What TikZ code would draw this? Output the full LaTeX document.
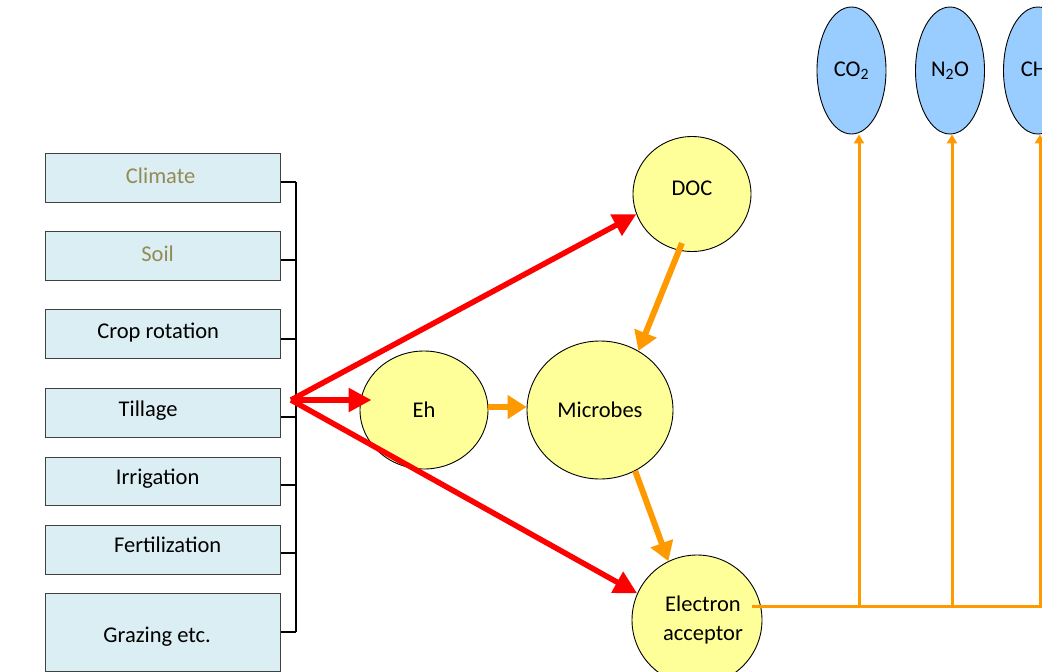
\documentclass[tikz,border=0pt]{standalone}
\usepackage{fontspec}
\setmainfont{Carlito}
\usetikzlibrary{shapes.geometric,arrows.meta}
\definecolor{boxfill}{RGB}{219,238,244}
\definecolor{tantext}{RGB}{148,138,84}
\definecolor{yel}{RGB}{255,255,153}
\definecolor{gasblue}{RGB}{153,204,255}
\definecolor{orng}{RGB}{255,153,0}
\begin{document}
\begin{tikzpicture}[x=1pt,y=-1pt,
  every node/.style={font=\fontsize{22.5}{28}\selectfont},
  factor/.style={draw=black!75,line width=1.3pt,fill=boxfill,minimum width=235pt,inner sep=0pt,anchor=north west},
  blob/.style={ellipse,draw=black,line width=0.9pt,fill=yel,inner sep=0pt,align=center},
  gas/.style={ellipse,draw=black,line width=0.9pt,fill=gasblue,inner sep=0pt,minimum width=69pt,minimum height=127pt},
  bus/.style={line width=1.2pt,black},
  redarrow/.style={draw=red,line width=5.5pt,-{Triangle[length=23pt,width=23pt]}},
  orarrow/.style={draw=orng,line width=6pt,-{Triangle[length=19pt,width=23pt]}},
  gasline/.style={draw=orng,line width=3pt},
  gasarrow/.style={draw=orng,line width=3pt,-{Triangle[length=9pt,width=10pt]}}]
\useasboundingbox (0,0) rectangle (1042,672);
\clip (0,0) rectangle (1042,672);

% factor boxes
\node[factor,minimum height=49pt,label={[xshift=-2.5pt,yshift=2pt,text=tantext]center:Climate}] (clim) at (45,153) {};
\node[factor,minimum height=49pt,label={[xshift=-5.5pt,yshift=2pt,text=tantext]center:Soil}] (soil) at (45,231) {};
\node[factor,minimum height=49pt,label={[xshift=-5pt,yshift=2pt]center:Crop rotation}] (crop) at (45,309) {};
\node[factor,minimum height=49pt,label={[xshift=-15pt,yshift=3pt]center:Tillage}] (till) at (45,388) {};
\node[factor,minimum height=48pt,label={[xshift=-5.5pt,yshift=3pt]center:Irrigation}] (irr) at (45,457) {};
\node[factor,minimum height=49pt,label={[xshift=4.5pt,yshift=5pt]center:Fertilization}] (fert) at (45,525) {};
\node[factor,minimum height=78pt,label={[xshift=-6pt,yshift=-4pt]center:Grazing etc.}] (graz) at (45,593) {};

% bracket
\coordinate (b1) at (296,182);
\coordinate (b2) at (296,260);
\coordinate (b3) at (296,339);
\coordinate (b4) at (296,417);
\coordinate (b5) at (296,485);
\coordinate (b6) at (296,553);
\coordinate (b7) at (296,632);
\draw[bus] (b1) -- (b7);
\draw[bus] (clim.east |- b1) -- (b1);
\draw[bus] (soil.east |- b2) -- (b2);
\draw[bus] (crop.east |- b3) -- (b3);
\draw[bus] (till.east |- b4) -- (b4);
\draw[bus] (irr.east |- b5) -- (b5);
\draw[bus] (fert.east |- b6) -- (b6);
\draw[bus] (graz.east |- b7) -- (b7);

% process nodes
\node[blob,minimum width=128pt,minimum height=118pt] (eh) at (424,410) {Eh};
\node[blob,minimum width=146pt,minimum height=138pt] (mic) at (600,410) {Microbes};
\node[blob,minimum width=118pt,minimum height=115pt] (doc) at (692,194) {\raisebox{12pt}{DOC}};
\node[blob,minimum width=130pt,minimum height=130pt] (ea) at (697,620) {\hspace*{12pt}\raisebox{-1pt}{\begin{tabular}{@{}c@{}}Electron\\[1pt]acceptor\end{tabular}}};

% gases
\node[gas] (co2) at (851.5,70.5) {CO\textsubscript{2}};
\node[gas] (n2o) at (950,70.5) {N\textsubscript{2}O};
\node[gas] (ch4) at (1038,70.5) {CH\textsubscript{4}};

% red arrows
\coordinate (src) at (291,400);
\draw[redarrow] (src) -- (doc.200);
\draw[redarrow] (src) -- (ea.156);
\draw[redarrow] (src) -- ([xshift=12pt]eh.west |- src);

% orange arrows
\draw[orarrow] (eh.east |- 0,407) -- (mic.west |- 0,407);
\draw[orarrow,shorten <=-8pt] (doc.-103) -- (mic.57);
\draw[orarrow] (mic.-60) -- (ea.116);

% gas connections
\coordinate (j1) at (859,606);
\coordinate (j2) at (952,606);
\coordinate (j3) at (1040,606);
\draw[gasline] ([shift={(-10,-14)}]ea.east) -- (1042,606);
\draw[gasarrow] (j1) -- (co2.south -| j1);
\draw[gasarrow] (j2) -- (n2o.south -| j2);
\draw[gasarrow] (j3) -- (ch4.south -| j3);
\end{tikzpicture}
\end{document}
